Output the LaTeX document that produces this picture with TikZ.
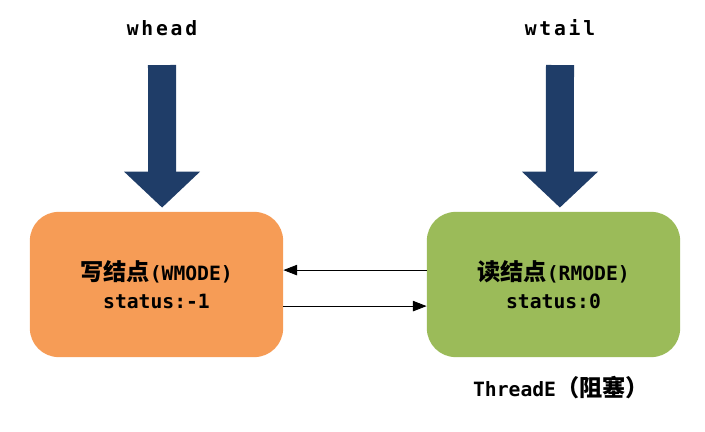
\documentclass[tikz,border=0pt]{standalone}
\usepackage{fontspec}
\setmonofont{DejaVu Sans Mono}
\newfontfamily\spmono{DejaVu Sans Mono}[LetterSpace=14]
\newfontfamily\cjk{Noto Sans CJK SC}
\usepackage{tikz}
\usetikzlibrary{positioning,arrows.meta,calc}
\definecolor{navy}{HTML}{1F3D68}
\definecolor{wfill}{HTML}{F69C56}
\definecolor{rfill}{HTML}{9BBB59}
\newcommand{\zh}[1]{{\fontsize{16.5}{19}\selectfont\cjk\bfseries #1}}
\tikzset{
  nodebox/.style={rounded corners=0.72cm, minimum width=6.33cm, minimum height=3.63cm,
                  align=center, inner sep=0pt, font=\fontsize{14}{20}\selectfont\ttfamily\bfseries},
  ptr/.style={font=\fontsize{14}{16}\selectfont\spmono\bfseries},
  blk/.style={navy, line width=0.7cm, -{Triangle[length=0.9cm, width=1.85cm]}},
  ar/.style={-{Triangle[length=3.4mm, width=2.6mm]}, semithick, color=black},
  lbl/.style={font=\fontsize{14}{16}\selectfont\ttfamily\bfseries},
}

\begin{document}
\begin{tikzpicture}[x=0.025cm, y=-0.025cm]
\useasboundingbox (0,0) rectangle (705,432);

\node[nodebox, fill=wfill] (wnode) at (156.5,284.5) {\zh{写结点}(WMODE)\\status:-1};
\node[nodebox, fill=rfill] (rnode) at (553.5,284.5) {\zh{读结点}(RMODE)\\status:0};

\node[ptr] (whead) at (162,28) {whead};
\node[ptr] (wtail) at (560,28) {wtail};

\draw[blk] ([yshift=-0.925cm]whead.center) -- ([xshift=0.14cm, yshift=0.1cm]wnode.north);
\draw[blk] ([yshift=-0.925cm]wtail.center) -- ([xshift=0.16cm, yshift=0.1cm]rnode.north);

% pointers between the two nodes
\draw[ar] ([yshift=0.36cm]rnode.west) -- ([yshift=0.36cm]wnode.east);
\draw[ar] ([yshift=-0.54cm]wnode.east) -- ([yshift=-0.54cm]rnode.west);

\node[lbl] (thr) at (561,388) {ThreadE\zh{（阻塞）}};

\end{tikzpicture}
\end{document}
